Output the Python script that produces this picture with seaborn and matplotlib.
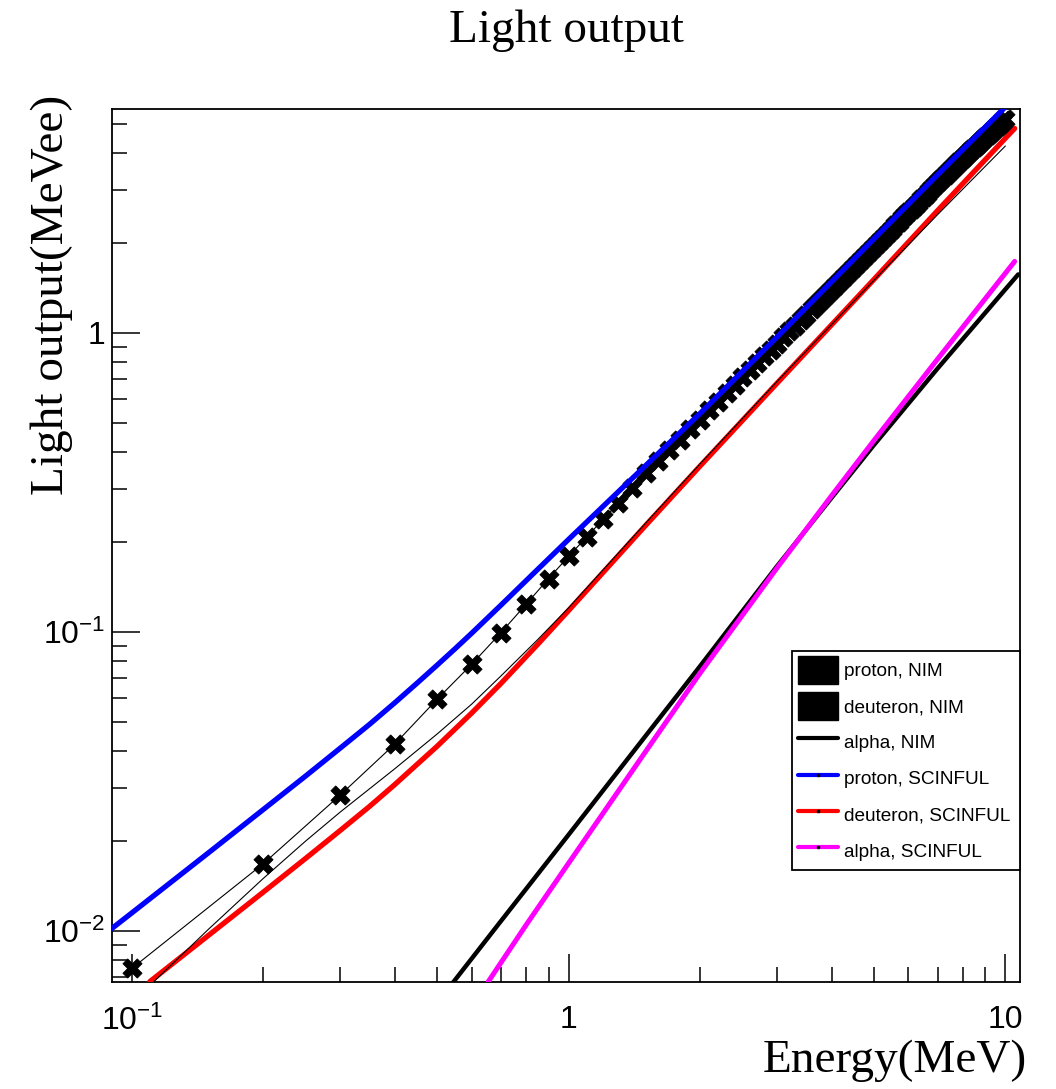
import numpy as np
import pandas as pd
import matplotlib
matplotlib.use("Agg")
import matplotlib.pyplot as plt
import seaborn as sns
from matplotlib.patches import Patch
from matplotlib.lines import Line2D
from matplotlib.ticker import FixedLocator, FixedFormatter, LogLocator, NullFormatter

# ---------------------------------------------------------------- data
# proton light output, NIM parametrisation (markers every 0.1 MeV)
proton_nim_E = [
    0.1, 0.2, 0.3, 0.4, 0.5, 0.6, 0.7, 0.8, 0.9, 1.0,
    1.1, 1.2, 1.3, 1.4, 1.5, 1.6, 1.7, 1.8, 1.9, 2.0,
    2.1, 2.2, 2.3, 2.4, 2.5, 2.6, 2.7, 2.8, 2.9, 3.0,
    3.1, 3.2, 3.3, 3.4, 3.5, 3.6, 3.7, 3.8, 3.9, 4.0,
    4.1, 4.2, 4.3, 4.4, 4.5, 4.6, 4.7, 4.8, 4.9, 5.0,
    5.1, 5.2, 5.3, 5.4, 5.5, 5.6, 5.7, 5.8, 5.9, 6.0,
    6.1, 6.2, 6.3, 6.4, 6.5, 6.6, 6.7, 6.8, 6.9, 7.0,
    7.1, 7.2, 7.3, 7.4, 7.5, 7.6, 7.7, 7.8, 7.9, 8.0,
    8.1, 8.2, 8.3, 8.4, 8.5, 8.6, 8.7, 8.8, 8.9, 9.0,
    9.1, 9.2, 9.3, 9.4, 9.5, 9.6, 9.7, 9.8, 9.9, 10.0,
]
proton_nim_L = [
    0.0075, 0.0168, 0.0285, 0.0422, 0.0596, 0.078, 0.0995, 0.124, 0.151, 0.179,
    0.208, 0.238, 0.270, 0.304, 0.340, 0.373, 0.406, 0.440, 0.476, 0.512,
    0.551, 0.590, 0.630, 0.670, 0.711, 0.752, 0.794, 0.836, 0.879, 0.922,
    0.967, 1.012, 1.058, 1.105, 1.152, 1.200, 1.249, 1.298, 1.348, 1.398,
    1.449, 1.501, 1.553, 1.606, 1.660, 1.714, 1.769, 1.824, 1.880, 1.937,
    1.995, 2.054, 2.113, 2.173, 2.233, 2.294, 2.355, 2.417, 2.479, 2.541,
    2.604, 2.667, 2.731, 2.795, 2.859, 2.924, 2.989, 3.055, 3.121, 3.187,
    3.253, 3.319, 3.385, 3.452, 3.519, 3.586, 3.653, 3.720, 3.787, 3.854,
    3.921, 3.988, 4.056, 4.124, 4.192, 4.260, 4.328, 4.396, 4.464, 4.532,
    4.600, 4.668, 4.736, 4.804, 4.872, 4.940, 5.008, 5.076, 5.144, 5.212,
]

# deuteron, NIM
deuteron_nim_E = [0.1, 0.11, 0.15, 0.2, 0.25, 0.3, 0.4, 0.5, 0.6, 0.7, 0.85,
                  1.0, 1.5, 2.0, 3.0, 5.0, 7.0, 10.0]
deuteron_nim_L = [0.00576, 0.00658, 0.01016, 0.0150, 0.0200, 0.0250, 0.0349,
                  0.0456, 0.0574, 0.0713, 0.0944, 0.1205, 0.231, 0.365, 0.688,
                  1.50, 2.49, 4.22]

# alpha, NIM
alpha_nim_E = [0.5, 0.7, 1.0, 1.5, 2.0, 3.0, 4.0, 5.0, 7.0, 10.0, 10.7]
alpha_nim_L = [0.00575, 0.0108, 0.0210, 0.0449, 0.0769, 0.166, 0.281, 0.422,
               0.762, 1.40, 1.57]

# proton, SCINFUL
proton_sc_E = [0.09, 0.1, 0.15, 0.2, 0.25, 0.3, 0.35, 0.4, 0.45, 0.5, 0.55, 0.6,
               0.7, 0.85, 1.0, 1.5, 2.0, 3.0, 5.0, 7.0, 10.0]
proton_sc_L = [0.0102, 0.0115, 0.0183, 0.0255, 0.0330, 0.0409, 0.0491, 0.0580,
               0.0675, 0.0775, 0.0880, 0.0991, 0.1230, 0.1621, 0.2041, 0.3600,
               0.5384, 0.9694, 2.064, 3.386, 5.70]

# deuteron, SCINFUL
deuteron_sc_E = [0.11, 0.15, 0.2, 0.25, 0.3, 0.35, 0.4, 0.5, 0.6, 0.7, 0.85,
                 1.0, 1.5, 2.0, 3.0, 5.0, 7.0, 10.0, 10.5]
deuteron_sc_L = [0.00678, 0.00969, 0.0135, 0.0175, 0.0217, 0.0261, 0.0309,
                 0.0415, 0.0536, 0.0673, 0.0910, 0.118, 0.227, 0.359, 0.679,
                 1.51, 2.57, 4.48, 4.83]

# alpha, SCINFUL
alpha_sc_E = [0.655, 0.8, 1.0, 1.5, 2.0, 3.0, 4.0, 5.0, 7.0, 10.0, 10.5]
alpha_sc_L = [0.00678, 0.0105, 0.01687, 0.0398, 0.0729, 0.1638, 0.2857, 0.4368,
              0.819, 1.585, 1.735]

legend_labels = ["proton, NIM", "deuteron, NIM", "alpha, NIM",
                 "proton, SCINFUL", "deuteron, SCINFUL", "alpha, SCINFUL"]

# ---------------------------------------------------------------- style
sns.set_theme(style="white")
plt.rcParams["font.family"] = ["Liberation Sans", "DejaVu Sans"]
plt.rcParams["mathtext.fontset"] = "custom"
plt.rcParams["mathtext.rm"] = "Liberation Sans"
plt.rcParams["mathtext.it"] = "Liberation Sans:italic"
plt.rcParams["mathtext.bf"] = "Liberation Sans:bold"
plt.rcParams["axes.unicode_minus"] = True
for key in ("text.color", "axes.labelcolor", "xtick.color", "ytick.color",
            "axes.edgecolor"):
    plt.rcParams[key] = "black"

fig = plt.figure(figsize=(10.56, 10.89), dpi=100)
fig.patch.set_facecolor("white")
ax = fig.add_axes([0.1061, 0.0985, 0.8598, 0.8014])
ax.set_facecolor("white")
ax.set_xscale("log")
ax.set_yscale("log")

# ---------------------------------------------------------------- curves
sns.lineplot(x=alpha_nim_E, y=alpha_nim_L, ax=ax, color="black", linewidth=3.2,
             estimator=None, sort=False, legend=False, zorder=3)
sns.lineplot(x=alpha_sc_E, y=alpha_sc_L, ax=ax, color="#ff00ff", linewidth=3.6,
             estimator=None, sort=False, legend=False, zorder=4)
sns.lineplot(x=deuteron_sc_E, y=deuteron_sc_L, ax=ax, color="#ff0000", linewidth=3.8,
             estimator=None, sort=False, legend=False, zorder=4)
sns.lineplot(x=deuteron_nim_E, y=deuteron_nim_L, ax=ax, color="black", linewidth=0.8,
             estimator=None, sort=False, legend=False, zorder=5)
sns.lineplot(x=proton_nim_E, y=proton_nim_L, ax=ax, color="black", linewidth=0.8,
             estimator=None, sort=False, legend=False, zorder=5)
sns.scatterplot(x=proton_nim_E, y=proton_nim_L, ax=ax, marker="X", s=190,
                color="black", edgecolor="black", linewidth=0.6, legend=False,
                zorder=6)
sns.lineplot(x=proton_sc_E, y=proton_sc_L, ax=ax, color="#0000ff", linewidth=3.8,
             estimator=None, sort=False, legend=False, zorder=7)

ax.set_xlim(0.0901, 10.8)
ax.set_ylim(0.00677, 5.61)

# ---------------------------------------------------------------- axes
ax.xaxis.set_major_locator(FixedLocator([0.1, 1, 10]))
ax.xaxis.set_major_formatter(FixedFormatter([r"$\mathregular{10^{-1}}$", "1", "10"]))
ax.yaxis.set_major_locator(FixedLocator([0.01, 0.1, 1]))
ax.yaxis.set_major_formatter(FixedFormatter([r"$\mathregular{10^{-2}}$",
                                             r"$\mathregular{10^{-1}}$", "1"]))
for axis in (ax.xaxis, ax.yaxis):
    axis.set_minor_locator(LogLocator(base=10, subs=np.arange(2, 10)))
    axis.set_minor_formatter(NullFormatter())

ax.tick_params(which="both", direction="in", bottom=True, left=True,
               top=False, right=False, colors="black", width=1.1, labelsize=23)
ax.tick_params(which="major", length=20)
ax.tick_params(which="minor", length=11)
ax.tick_params(axis="x", which="major", pad=17)
ax.tick_params(axis="y", which="major", pad=5)

for sp in ax.spines.values():
    sp.set_visible(True)
    sp.set_color("black")
    sp.set_linewidth(1.3)

# ---------------------------------------------------------------- texts
serif = ["Liberation Serif", "DejaVu Serif"]
fig.text(566 / 1056, 1 - 41.5 / 1089, "Light output", ha="center", va="baseline",
         family=serif, size=34, color="black")
fig.text(1027 / 1056, 1 - 1072 / 1089, "Energy(MeV)", ha="right", va="baseline",
         family=serif, size=34, color="black")
fig.text(51.5 / 1056, 1 - 95 / 1089, "Light output(MeVee)", ha="center", va="top",
         rotation=90, family=serif, size=34, color="black")

# ---------------------------------------------------------------- legend
handles = [
    Patch(facecolor="black", edgecolor="black"),
    Patch(facecolor="black", edgecolor="black"),
    Line2D([], [], color="black", linewidth=3),
    Line2D([], [], color="#0000ff", linewidth=3, marker="s", markersize=2,
           markerfacecolor="black", markeredgecolor="black"),
    Line2D([], [], color="#ff0000", linewidth=3, marker="s", markersize=2,
           markerfacecolor="black", markeredgecolor="black"),
    Line2D([], [], color="#ff00ff", linewidth=3, marker="s", markersize=2,
           markerfacecolor="black", markeredgecolor="black"),
]
leg = ax.legend(handles, legend_labels, loc="lower left", mode="expand",
                bbox_to_anchor=(0.7489, 0.128, 0.2511, 0.25), borderaxespad=0,
                frameon=True, fancybox=False, framealpha=1, edgecolor="black",
                prop={"family": "Liberation Sans", "size": 13.7},
                handlelength=2.1, handleheight=1.85, labelspacing=0.45,
                handletextpad=0.35, borderpad=0.3)
leg.get_frame().set_linewidth(1.3)
leg.set_zorder(10)

fig.savefig("out.png", dpi=100, facecolor="white")
